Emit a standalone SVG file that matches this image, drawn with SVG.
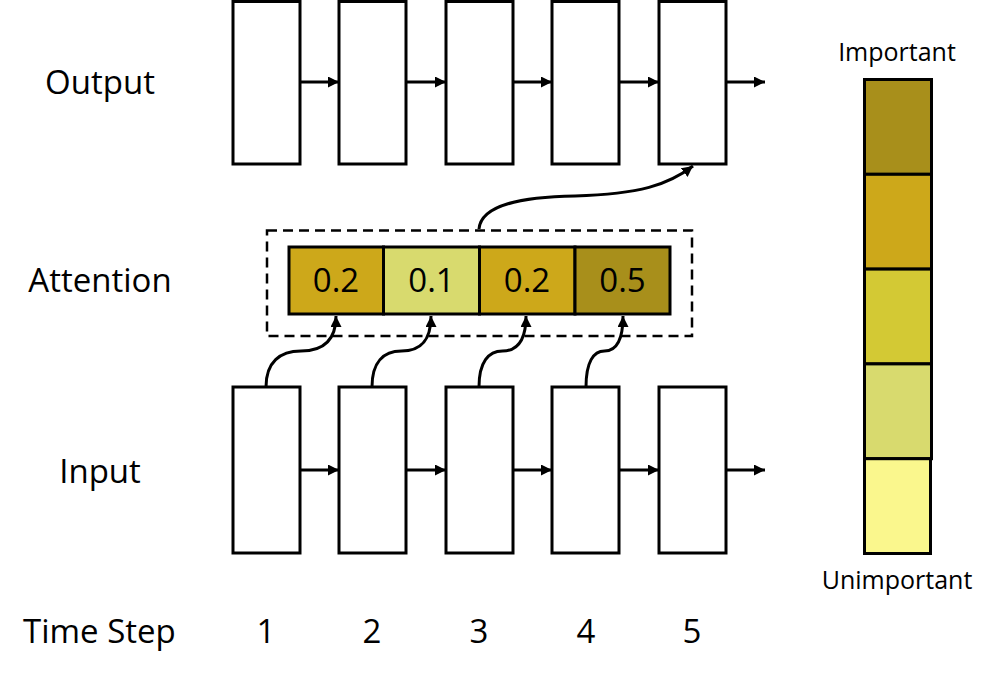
<svg xmlns="http://www.w3.org/2000/svg" width="991" height="676" viewBox="0 0 991 676">
<defs>
<marker id="ah" markerUnits="userSpaceOnUse" markerWidth="12" markerHeight="12" refX="11" refY="5.5" orient="auto">
<path d="M0,0 L11,5.5 L0,11 z" fill="#000"/>
</marker>
<style>
.box{fill:#fff;stroke:#000;stroke-width:3}
.cell{stroke:#000;stroke-width:3}
.lbl{font-family:"Open Sans","Noto Sans",sans-serif;font-size:33px;fill:#000}
.leg{font-family:"Open Sans","Noto Sans",sans-serif;font-size:25px;fill:#000}
.con{fill:none;stroke:#000;stroke-width:3;marker-end:url(#ah)}
.c1{fill:#A88F1B}.c2{fill:#CDA81A}.c3{fill:#D3C934}.c4{fill:#D8DA6E}.c5{fill:#FAF78D}
</style>
</defs>
<rect width="991" height="676" fill="#fff"/>

<g id="row-labels">
<text class="lbl" x="100" y="94" text-anchor="middle">Output</text>
<text class="lbl" x="100" y="292" text-anchor="middle">Attention</text>
<text class="lbl" x="100" y="483" text-anchor="middle">Input</text>
<text class="lbl" x="23" y="643">Time Step</text>
</g>

<g id="timesteps">
<text class="lbl" x="266" y="643" text-anchor="middle">1</text>
<text class="lbl" x="372" y="643" text-anchor="middle">2</text>
<text class="lbl" x="479" y="643" text-anchor="middle">3</text>
<text class="lbl" x="586" y="643" text-anchor="middle">4</text>
<text class="lbl" x="692" y="643" text-anchor="middle">5</text>
</g>

<g id="output-1"><rect class="box" x="233" y="1.5" width="67" height="162.5"/></g>
<g id="output-2"><rect class="box" x="339" y="1.5" width="67" height="162.5"/></g>
<g id="output-3"><rect class="box" x="446" y="1.5" width="67" height="162.5"/></g>
<g id="output-4"><rect class="box" x="552" y="1.5" width="67" height="162.5"/></g>
<g id="output-5"><rect class="box" x="659" y="1.5" width="67" height="162.5"/></g>

<g id="input-1"><rect class="box" x="233" y="387" width="67" height="166"/></g>
<g id="input-2"><rect class="box" x="339" y="387" width="67" height="166"/></g>
<g id="input-3"><rect class="box" x="446" y="387" width="67" height="166"/></g>
<g id="input-4"><rect class="box" x="552" y="387" width="67" height="166"/></g>
<g id="input-5"><rect class="box" x="659" y="387" width="67" height="166"/></g>

<g id="attention">
<rect x="267" y="230.5" width="425" height="105.5" fill="none" stroke="#000" stroke-width="2.5" stroke-dasharray="10 6"/>
<rect class="cell c2" x="289" y="247" width="94.5" height="67"/>
<rect class="cell c4" x="383.5" y="247" width="96" height="67"/>
<rect class="cell c2" x="479.5" y="247" width="95.5" height="67"/>
<rect class="cell c1" x="575" y="247" width="95" height="67"/>
<text class="lbl" x="336" y="292" text-anchor="middle">0.2</text>
<text class="lbl" x="431.5" y="292" text-anchor="middle">0.1</text>
<text class="lbl" x="527" y="292" text-anchor="middle">0.2</text>
<text class="lbl" x="622.5" y="292" text-anchor="middle">0.5</text>
</g>

<g id="legend">
<rect class="cell c1" x="864.5" y="79.5" width="67" height="94.8"/>
<rect class="cell c2" x="864.5" y="174.3" width="67" height="94.8"/>
<rect class="cell c3" x="864.5" y="269.1" width="67" height="94.8"/>
<rect class="cell c4" x="864.5" y="363.9" width="67" height="94.8"/>
<rect class="cell c5" x="864.5" y="458.7" width="66" height="94.8"/>
<text class="leg" x="897" y="61" text-anchor="middle">Important</text>
<text class="leg" x="897" y="589" text-anchor="middle">Unimportant</text>
</g>

<g id="connectors">
<line class="con" x1="300" y1="82" x2="339" y2="82"/>
<line class="con" x1="406" y1="82" x2="446" y2="82"/>
<line class="con" x1="513" y1="82" x2="552" y2="82"/>
<line class="con" x1="619" y1="82" x2="659" y2="82"/>
<line class="con" x1="726" y1="82" x2="765" y2="82"/>
<line class="con" x1="300" y1="470" x2="339" y2="470"/>
<line class="con" x1="406" y1="470" x2="446" y2="470"/>
<line class="con" x1="513" y1="470" x2="552" y2="470"/>
<line class="con" x1="619" y1="470" x2="659" y2="470"/>
<line class="con" x1="726" y1="470" x2="765" y2="470"/>
<path class="con" d="M266,387 C266,362 280,351 301,351 C322,351 336,342 336,316"/>
<path class="con" d="M372,387 C372,362 383.5,351 401.5,351 C419.5,351 431,342 431,316"/>
<path class="con" d="M479,387 C479,362 488.5,351 502.5,351 C516.5,351 526,342 526,316"/>
<path class="con" d="M586,387 C586,362 593.5,351 604.5,351 C615.5,351 623,342 623,316"/>
<path class="con" d="M479,229 C481,205 520,197 575,196 C640,194 668,185 693,166"/>
</g>
</svg>
